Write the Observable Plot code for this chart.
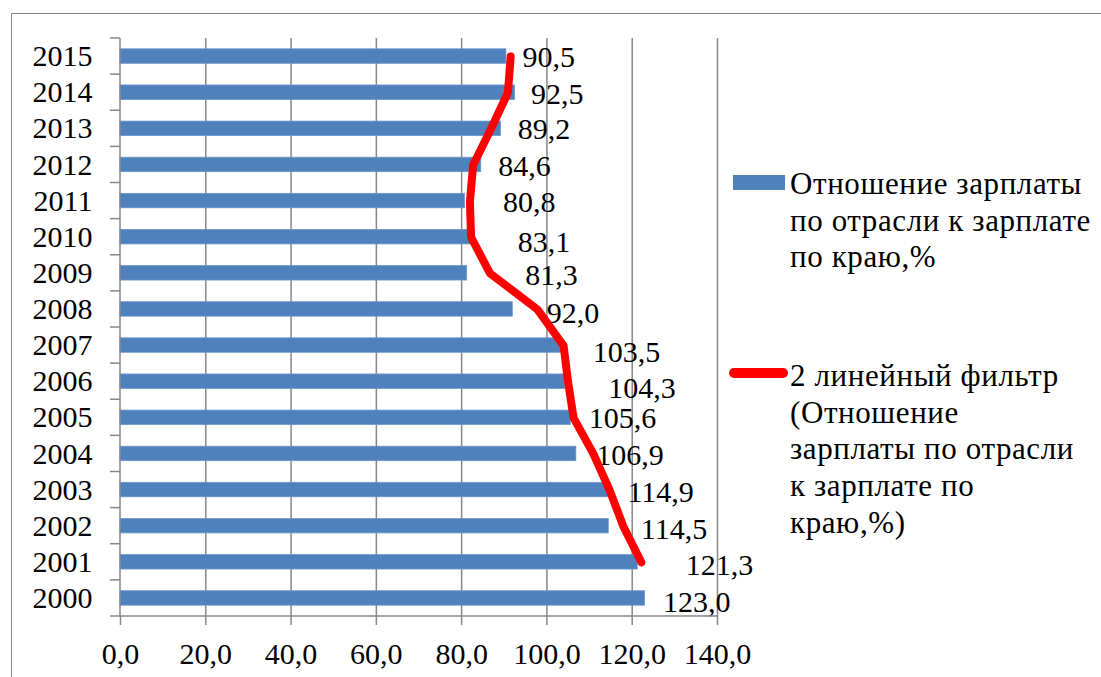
<!DOCTYPE html>
<html>
<head>
<meta charset="utf-8">
<script src="https://cdn.jsdelivr.net/npm/d3@7"></script>
<script src="https://cdn.jsdelivr.net/npm/@observablehq/plot@0.6"></script>
<style>
  body { margin: 0; background: #fff; font-family: "Liberation Serif", "Times New Roman", "Nimbus Roman", "FreeSerif", "Noto Serif", "DejaVu Serif", serif; }
  #wrap { position: relative; width: 1101px; height: 677px; overflow: hidden; background: #fff; }
  #frame { position: absolute; left: 11px; top: 13px; width: 1200px; height: 800px;
           border-left: 1.5px solid #868686; border-top: 1.5px solid #868686; box-sizing: border-box; }
  #chart { position: absolute; left: 0; top: 0; }
  .leg { position: absolute; font-size: 31px; letter-spacing: 0.6px; line-height: 36.7px; color: #000; white-space: nowrap; }
  .sw-bar { position: absolute; left: 733px; top: 175px; width: 52px; height: 15px; background: #4F81BD; }
  .sw-line { position: absolute; left: 729px; top: 368px; width: 59px; height: 10px; background: #ff0000; border-radius: 5px; }
  [aria-label="x-axis tick"] { stroke: #868686; stroke-width: 1.5; }
  svg text { font-family: "Liberation Serif", "Times New Roman", "Nimbus Roman", "FreeSerif", "Noto Serif", "DejaVu Serif", serif; }
</style>
</head>
<body>
<div id="wrap">
  <div id="frame"></div>
  <div id="chart"></div>
  <div class="sw-bar"></div>
  <div class="leg" style="left:790px; top:166px;">Отношение зарплаты<br>по отрасли к зарплате<br>по краю,%</div>
  <div class="sw-line"></div>
  <div class="leg" style="left:790px; top:358px;">2 линейный фильтр<br>(Отношение<br>зарплаты по отрасли<br>к зарплате по<br>краю,%)</div>
</div>
<script>
// ---- data ----
const years = ["2000","2001","2002","2003","2004","2005","2006","2007","2008","2009","2010","2011","2012","2013","2014","2015"];
const ratio = [123.0, 121.3, 114.5, 114.9, 106.9, 105.6, 104.3, 103.5, 92.0, 81.3, 83.1, 80.8, 84.6, 89.2, 92.5, 90.5];
const xTicks = [0, 20, 40, 60, 80, 100, 120, 140];

// manual label nudges (px) as in the original chart: [dx, dy]
const labelNudge = {
  "2015": [16, 1], "2014": [16, 2], "2013": [17, 1], "2012": [17, 1.5],
  "2011": [38, 1], "2010": [43, 5], "2009": [58, 2], "2008": [34, 4],
  "2007": [31, 7], "2006": [43, 7], "2005": [18, 1], "2004": [20, 1],
  "2003": [17, 2], "2002": [32, 3], "2001": [48, 3], "2000": [18, 4]
};

const data = years.map((year, i) => ({year, value: ratio[i]}));
const fmt = v => v.toFixed(1).replace(".", ",");
const grey = "#868686";
const serif = "'Liberation Serif', 'Times New Roman', 'Nimbus Roman', 'FreeSerif', 'Noto Serif', 'DejaVu Serif', serif";

const axisLines = (index, scales, values, dimensions) => {
  const y = scales.y;
  const top = dimensions.marginTop;
  const bottom = dimensions.height - dimensions.marginBottom;
  const left = dimensions.marginLeft;
  const right = dimensions.width - dimensions.marginRight;
  const dom = y.domain();
  const step = y.step ? y.step() : (bottom - top) / dom.length;
  const bw = y.bandwidth();
  const g = d3.create("svg:g").attr("stroke", grey).attr("stroke-width", 1.5).attr("fill", "none");
  g.append("line").attr("x1", left).attr("x2", left).attr("y1", top).attr("y2", bottom);
  g.append("line").attr("x1", left).attr("x2", right).attr("y1", bottom).attr("y2", bottom);
  const bounds = dom.map(d => y(d) + bw / 2 - step / 2);
  bounds.push(bottom);
  for (const b of bounds) {
    g.append("line").attr("x1", left - 10).attr("x2", left).attr("y1", b).attr("y2", b);
  }
  return g.node();
};

const labelMarks = data.map(d => Plot.text([d], {
  x: "value", y: "year", text: r => fmt(r.value),
  textAnchor: "start", dx: labelNudge[d.year][0], dy: labelNudge[d.year][1],
  fill: "#000", fontSize: 30, fontFamily: serif
}));

const chart = Plot.plot({
  width: 1101,
  height: 677,
  marginLeft: 120,
  marginRight: 384,
  marginTop: 38,
  marginBottom: 61,
  style: { fontFamily: serif, fontSize: "30px", color: "#000", background: "transparent", overflow: "visible" },
  x: { domain: [0, 140], ticks: xTicks, tickFormat: fmt, tickSize: 9, tickPadding: 17, label: null },
  y: { domain: years.slice().reverse(), paddingInner: 0.6, paddingOuter: 0.3, round: false, tickSize: 0, tickPadding: 28, label: null },
  marks: [
    Plot.ruleX(xTicks.filter(t => t > 0), { stroke: grey, strokeWidth: 1.5 }),
    Plot.barX(data, { x: "value", y: "year", fill: "#4F81BD", stroke: "#6c96cc", strokeWidth: 0.8 }),
    ...labelMarks,
    Plot.lineX(data, Plot.windowX({ k: 2, anchor: "end", strict: true, x: "value", y: "year",
      stroke: "#ff0000", strokeWidth: 8, strokeLinecap: "round", strokeLinejoin: "round" })),
    axisLines
  ]
});
document.getElementById("chart").appendChild(chart);
</script>
</body>
</html>
